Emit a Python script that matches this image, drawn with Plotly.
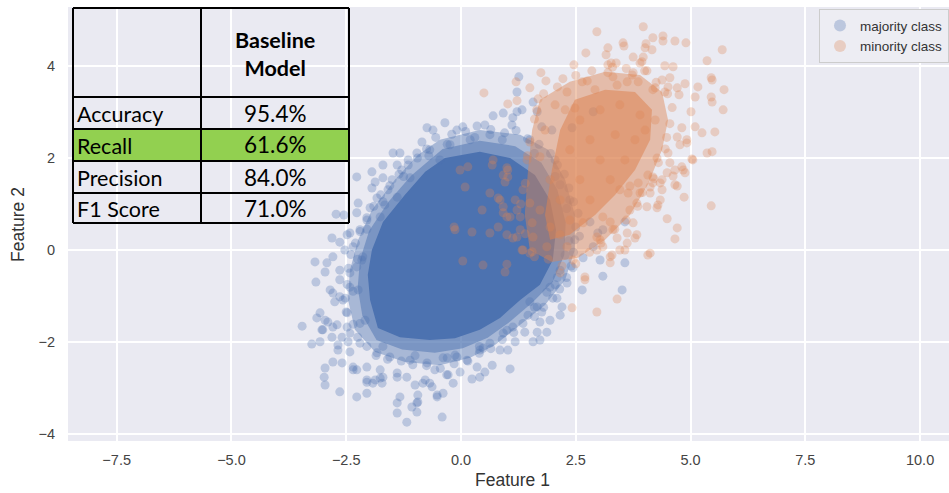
import plotly.graph_objects as go

# ---------------- data ----------------
majority_points = [
    (-0.35,2.77),(-0.74,2.66),(-0.61,2.61),(-0.09,2.61),(0.04,2.68),(-0.85,2.35),(-0.96,2.11),(-1.48,2.11),
    (-1.33,2.11),(-1.15,1.96),(-1.70,1.85),(-1.39,1.85),(-1.94,1.70),(-1.29,1.74),(-2.27,1.59),(-1.87,1.48),
    (-1.70,1.57),(-1.50,1.53),(-1.94,1.35),(-1.59,1.31),(-1.83,1.13),(-1.39,1.15),(-2.24,1.02),(-1.98,0.92),
    (-2.72,0.78),(-2.55,0.76),(-2.27,0.81),(-2.05,0.65),(-1.76,0.72),(-2.81,0.26),(-2.64,0.17),(-2.42,0.37),
    (-2.20,0.44),(-2.53,0.00),(-2.35,0.07),(-3.18,-0.26),(-2.92,-0.28),(-2.79,-0.15),(-2.96,-0.48),(-2.64,-0.44),
    (-2.42,-0.50),(-2.14,-0.15),(-2.27,-0.37),(-2.48,0.33),(-2.64,-0.65),(-3.16,-0.70),(-2.85,-0.87),(-2.79,-0.94),
    (-2.42,-0.81),(-2.57,-1.09),(-3.07,-1.37),(-3.14,-1.48),(-2.90,-1.57),(-2.79,-1.68),(-2.70,-1.63),(-3.46,-1.66),
    (-3.03,-1.74),(-2.48,-1.68),(-2.81,-1.90),(-2.59,-1.90),(-3.25,-2.05),(-3.07,-2.00),(-2.68,-2.07),(-2.46,-2.00),
    (-2.42,-2.22),(-2.79,-2.44),(-2.59,-2.46),(-2.96,-2.57),(-2.35,-2.55),(-2.98,-2.77),(-2.96,-2.94),(-2.64,-3.09),
    (-2.27,-3.20),(-2.05,-3.12),(-2.05,-2.88),(-1.92,-2.90),(-2.27,-2.61),(-2.05,-2.55),(-1.76,-2.79),(-1.39,-2.77),
    (-1.39,-3.33),(-1.39,-3.55),(-0.96,-3.53),(-1.18,-3.75),(-0.94,-3.16),(-0.96,-3.33),(-1.07,-3.42),(-0.52,-3.20),
    (-0.39,-3.12),(-0.41,-3.64),(-0.28,-2.72),(-0.02,-2.66),(-0.83,-2.90),(-0.68,-2.90),(-1.00,-2.94),
    (-2.75,-1.13),(-2.96,-1.53),(-3.01,-1.74),(-2.68,-2.18),(-2.35,-2.61),(-2.05,-2.83),(-1.87,-2.83),(-1.72,-2.90),
    (-1.76,-2.61),(-1.70,-2.77),(-1.39,-2.68),(-1.18,-2.77),(-1.33,-3.20),(-0.94,-3.31),(-0.78,-2.83),(-0.63,-2.98),
    (-0.52,-3.16),(-0.17,-2.90),(-0.31,-2.72),(-0.57,-2.61),
    (-2.42,-1.81),(-2.20,-2.03),(-1.83,-2.24),(-1.55,-2.33),(-1.11,-2.40),(-0.74,-2.46),(-0.39,-2.35),(-0.09,-2.33),
    (0.13,-2.40),(-2.48,-1.37),(-2.64,-1.02),
    (2.31,-0.72),(2.64,-0.87),(3.51,-0.87),(2.09,-1.05),(2.20,-1.24),(2.16,-1.42),(1.94,-1.53),(1.72,-1.57),
    (1.87,-1.79),(1.66,-1.79),(1.72,-1.96),(1.57,-2.00),(1.39,-1.79),(1.18,-2.00),(1.02,-2.18),(0.85,-2.18),
    (0.68,-2.51),(1.07,-2.59),(0.48,-2.14),(0.35,-2.55),(0.52,-2.66),(0.41,-2.77),(0.24,-2.81),(1.50,-1.13),
    (1.66,-1.24),(1.76,-1.35),(1.87,-0.92),(1.94,-0.81),(1.13,-1.68),(0.92,-1.81),(0.63,-2.03),
    (3.57,0.61),(2.81,0.61),(3.09,0.44),(2.98,0.37),(2.66,-0.17),(3.03,-0.22),(3.57,-0.28),(2.44,-0.39),
    (3.09,-0.57),(2.88,0.07),
    (1.26,3.77),(1.22,3.44),(0.70,2.92),(0.92,2.98),(1.57,3.22),(1.33,3.05),(1.66,3.01),(0.52,2.72),
    (1.13,2.88),(1.76,2.68),(1.98,2.61),(2.42,2.66),(2.88,3.01),(1.22,3.01),(1.11,2.72),(2.16,-0.44),
    (0.20,2.40),(-0.24,2.29),(-0.68,2.18),(0.63,2.51),(1.50,2.40),(2.05,1.96),(2.16,1.42),(2.37,1.09),
    (2.48,0.22),(2.27,-0.11),(2.05,-0.76),(1.46,-1.42),(0.41,-2.18),(-0.13,-2.29),(-2.09,-1.53),(-2.24,-0.87),
    (-2.16,-0.22),(-1.66,0.98),(-1.11,1.57),(-0.46,1.96),
    # dense band along the edge of the cloud
    (-0.55,2.45),(-0.20,2.52),(0.10,2.58),(0.35,2.70),(0.65,2.62),(0.95,2.55),(1.20,2.60),(1.45,2.42),
    (1.70,2.30),(1.95,2.10),(2.10,1.85),(2.25,1.65),(2.35,1.35),(2.45,1.05),(2.55,0.80),(2.50,0.50),
    (2.58,0.30),(2.45,-0.05),(2.40,-0.35),(2.30,-0.60),(2.15,-0.85),(2.00,-1.05),(1.80,-1.25),(1.60,-1.45),
    (1.35,-1.60),(1.15,-1.80),(0.90,-1.95),(0.65,-2.15),(0.40,-2.25),(0.15,-2.42),(-0.15,-2.48),(-0.45,-2.58),
    (-0.75,-2.52),(-1.05,-2.50),(-1.30,-2.42),(-1.60,-2.38),(-1.85,-2.30),(-2.05,-2.10),(-2.25,-1.90),(-2.35,-1.62),
    (-2.50,-1.35),(-2.52,-1.05),(-2.48,-0.75),(-2.45,-0.40),(-2.40,-0.10),(-2.30,0.15),(-2.20,0.40),(-2.05,0.70),
    (-1.90,0.95),(-1.75,1.20),(-1.55,1.40),(-1.35,1.65),(-1.15,1.85),(-0.95,2.00),(-0.75,2.20),
    (-0.30,2.30),(0.30,2.45),(0.90,2.40),(1.60,2.10),(2.05,1.60),(2.30,0.90),(2.35,0.20),(2.10,-0.60),
    (1.60,-1.25),(1.00,-1.75),(0.40,-2.10),(-0.30,-2.35),(-1.00,-2.30),(-1.70,-2.10),(-2.20,-1.60),(-2.35,-0.90),
    (-2.25,-0.20),(-2.05,0.45),(-1.70,1.05),(-1.25,1.60),(-0.70,2.05),
]

# outline of the fully saturated (opaque) centre of the majority cloud
majority_core_x = [-0.35, 0.41, 1.07, 1.61, 1.94, 2.07, 2.00, 1.72, 1.29, 0.85, 0.41, -0.13, -0.68, -1.33,
                   -1.81, -1.98, -2.03, -1.94, -1.70, -1.22, -0.78]
majority_core_y = [2.00, 2.14, 2.00, 1.63, 1.09, 0.44, -0.22, -0.76, -1.09, -1.48, -1.74, -1.92, -1.96, -1.90,
                   -1.70, -1.09, -0.54, 0.00, 0.61, 1.20, 1.70]
# outline of the semi-dense ring around it
majority_halo_x = [-0.46, 0.41, 1.29, 1.90, 2.27, 2.48, 2.48, 2.27, 1.83, 1.29, 0.74, 0.20, -0.46, -1.22,
                   -1.87, -2.31, -2.46, -2.42, -2.24, -1.94, -1.44, -0.94]
majority_halo_y = [2.40, 2.61, 2.51, 2.18, 1.53, 0.76, 0.00, -0.65, -1.20, -1.63, -2.07, -2.35, -2.51, -2.44,
                   -2.22, -1.74, -1.09, -0.44, 0.22, 0.87, 1.53, 2.07]
# an intermediate band between ring and centre
majority_mid_x = [-0.40, 0.41, 1.18, 1.75, 2.10, 2.28, 2.25, 2.00, 1.55, 1.07, 0.58, 0.04, -0.57, -1.28,
                  -1.84, -2.15, -2.25, -2.20, -2.00, -1.58, -1.08]
majority_mid_y = [2.20, 2.38, 2.26, 1.90, 1.31, 0.60, -0.11, -0.70, -1.15, -1.56, -1.91, -2.14, -2.24, -2.17,
                  -1.96, -1.42, -0.82, -0.22, 0.42, 1.05, 1.62]

minority_points = [
    (3.97,4.86),(2.96,4.75),(4.40,4.66),(4.40,4.55),(4.18,4.62),(4.66,4.55),(4.90,4.51),(3.53,4.51),(3.55,4.44),
    (4.03,4.49),(4.01,4.40),(4.16,4.36),(5.69,4.36),(2.72,4.29),(3.16,4.25),(3.20,4.40),(3.75,4.20),(3.97,4.20),
    (3.94,4.10),(5.36,4.12),(3.27,4.07),(3.38,4.07),(3.20,4.03),(2.46,4.03),(4.44,4.01),(4.62,3.99),(1.74,3.86),
    (1.85,3.68),(2.22,3.73),(2.64,3.66),(2.75,3.68),(3.20,3.86),(3.73,3.81),(4.05,3.90),(4.38,3.70),(4.55,3.75),
    (5.45,3.75),(5.47,3.70),(2.31,3.44),(0.50,3.42),(2.92,3.49),(3.40,3.59),(3.62,3.66),(4.88,3.62),(5.16,3.55),
    (5.73,3.49),(4.71,3.53),(4.75,3.38),(5.10,3.33),(5.45,3.33),(5.47,3.22),(5.71,3.05),(5.01,3.01),(4.18,3.49),
    (4.44,3.44),(1.68,3.29),(1.22,3.25),(1.02,3.18),(2.05,3.16),(2.48,3.09),(4.81,2.66),(5.10,2.68),(5.25,2.55),
    (5.53,2.57),(4.92,2.40),(4.92,2.33),(5.36,2.11),(5.47,2.14),(5.05,1.96),(4.81,1.81),(4.66,1.74),(4.55,1.90),
    (4.88,1.68),(4.86,1.15),(4.49,0.68),(4.71,0.48),(4.66,0.24),(5.45,0.96),(4.34,1.09),(4.27,0.92),(4.05,0.94),
    (3.83,1.02),(3.75,0.59),(3.62,0.37),(3.83,0.33),(3.46,0.00),(4.12,-0.07),(3.29,-0.11),(4.38,1.53),(4.38,1.31),
    (4.18,1.46),(4.66,1.42),(4.77,2.29),(4.51,2.11),(4.27,2.00),(4.71,2.46),(3.90,4.07),(4.51,3.55),(4.23,3.53),
    (3.86,3.66),(3.31,3.77),(3.75,3.86),(5.03,1.98),(4.84,1.74),(4.49,1.68),(4.62,1.61),(4.71,1.39),(4.07,1.63),
    (4.18,1.59),(4.12,1.37),(4.34,1.46),(3.90,1.24),(4.12,1.24),(4.29,0.98),(3.68,0.87),(3.79,0.26),(3.62,0.15),
    (3.57,0.00),(4.07,-0.11),(3.25,-0.15),(3.25,-0.28),(2.70,-0.59),(3.09,0.72),(3.25,0.61),(3.31,0.44),(3.40,0.26),
    (3.03,0.22),(2.96,0.00),(3.64,1.24),(3.68,1.39),(3.86,1.46),
    (0.63,1.24),(0.46,0.87),(0.81,1.13),(0.92,1.63),(0.96,1.48),(1.02,1.74),(0.70,1.96),(0.68,1.85),(0.92,0.94),
    (1.00,0.72),(1.18,1.09),(1.22,0.87),(1.29,0.72),(0.81,0.50),(0.63,0.37),(1.00,0.33),(1.13,0.26),(1.29,0.44),
    (1.55,0.59),(1.57,0.28),(1.35,0.00),(1.50,-0.07),(0.48,-0.33),(1.00,-0.31),(0.96,-0.48),(1.87,0.07),(1.35,1.31),
    (1.50,1.02),(1.44,1.96),(1.72,2.03),(0.24,0.39),(1.94,0.50),(2.16,0.33),(2.31,0.07),(2.16,-0.50),(2.44,-0.22),
    (2.96,0.28),(3.09,0.07),(2.66,0.59),(-0.15,0.50),(0.04,-0.24),(0.09,1.37),(-0.02,1.74),(0.15,1.81),(1.00,1.79),
    (1.02,1.59),(0.85,1.09),(0.92,0.81),(1.07,0.72),(1.22,0.28),(1.33,0.00),(1.55,-0.04),(2.42,-1.26),(2.96,-1.35),
    (3.40,-1.07),(2.70,-0.65),(-0.13,0.44),(1.20,3.66),(1.50,3.53),
    (2.59,2.83),(3.03,3.05),(3.46,3.16),(3.90,2.94),(2.81,2.40),(3.36,2.51),(3.79,2.40),(2.37,2.18),(3.03,1.96),
    (3.57,1.96),(2.59,1.53),(3.25,1.53),(2.16,1.09),(2.81,1.09),(2.37,0.65),(1.94,1.53),(1.83,2.61),(2.27,3.05),
    (4.01,2.61),(4.23,2.83),(3.46,1.31),(1.72,0.87),
    # points along the edge of the dense part
    (1.80,3.40),(2.10,3.55),(2.50,3.80),(2.85,3.90),(3.30,3.98),(3.60,3.95),(4.00,3.90),(4.25,3.65),(4.50,3.40),
    (4.60,3.10),(4.55,2.75),(4.48,2.45),(4.45,2.20),(4.30,1.90),(4.20,1.55),(3.95,1.25),(3.85,0.95),(3.60,0.65),
    (3.35,0.45),(3.05,0.15),(2.80,-0.05),(2.50,-0.30),(2.20,-0.35),(1.90,-0.20),(1.60,-0.15),(1.40,0.35),
    (1.30,1.00),(1.40,1.45),(1.45,2.05),(1.50,2.35),(1.60,2.85),(1.65,3.05),
]
# outlines of the dense parts of the minority cloud
minority_outer_x = [1.72, 2.37, 3.14, 3.90, 4.38, 4.51, 4.38, 4.07, 3.68, 3.14, 2.55, 1.98, 1.50, 1.39, 1.46, 1.55]
minority_outer_y = [3.27, 3.66, 3.88, 3.81, 3.44, 2.83, 2.18, 1.42, 0.76, 0.22, -0.17, -0.26, 0.00, 0.76, 1.74, 2.61]
minority_inner_x = [2.48, 3.14, 3.79, 4.16, 4.12, 3.79, 3.36, 2.92, 2.37, 1.94, 1.83, 1.98, 2.16]
minority_inner_y = [3.27, 3.49, 3.44, 3.05, 2.40, 1.74, 1.20, 0.76, 0.33, 0.22, 0.76, 1.74, 2.61]

series_names = ["majority class", "minority class"]
x_ticks = [-7.5, -5.0, -2.5, 0.0, 2.5, 5.0, 7.5, 10.0]
y_ticks = [-4, -2, 0, 2, 4]
x_range = [-8.56, 10.63]
y_range = [-4.16, 5.29]

table_header = ["Baseline", "Model"]
metric_names = ["Accuracy", "Recall", "Precision", "F1 Score"]
metric_values = ["95.4%", "61.6%", "84.0%", "71.0%"]
highlight_metric = "Recall"

# ---------------- styling ----------------
BLUE = "76,114,176"
ORANGE = "221,132,82"
W, H = 949, 493
ML, MR, MT, MB = 68, 0, 7, 52
PW, PH = W - ML - MR, H - MT - MB


def px_x(px):
    return (px - ML) / PW


def px_y(py):
    return (H - MB - py) / PH


fig = go.Figure()


def polygon(xs, ys, rgba):
    fig.add_trace(go.Scatter(x=xs, y=ys, mode="lines", fill="toself", fillcolor=rgba,
                             line=dict(width=0, color=rgba), hoverinfo="skip", showlegend=False))


polygon(majority_halo_x, majority_halo_y, f"rgba({BLUE},0.42)")
polygon(majority_mid_x, majority_mid_y, f"rgba({BLUE},0.5)")
polygon(majority_core_x, majority_core_y, f"rgb({BLUE})")
fig.add_trace(go.Scatter(
    x=[p[0] for p in majority_points], y=[p[1] for p in majority_points], mode="markers",
    name=series_names[0], marker=dict(size=9, color=f"rgba({BLUE},0.3)", line=dict(width=0))))
polygon(minority_outer_x, minority_outer_y, f"rgba({ORANGE},0.45)")
polygon(minority_inner_x, minority_inner_y, f"rgba({ORANGE},0.55)")
fig.add_trace(go.Scatter(
    x=[p[0] for p in minority_points], y=[p[1] for p in minority_points], mode="markers",
    name=series_names[1], marker=dict(size=9, color=f"rgba({ORANGE},0.3)", line=dict(width=0))))

tickfont = dict(family="Liberation Sans", size=14.5, color="#444444")
fig.update_xaxes(range=x_range, tickvals=x_ticks, tickformat=".1f", showgrid=True, gridcolor="white",
                 gridwidth=1.5, zeroline=False, showline=False, ticks="", tickfont=tickfont,
                 ticklabelstandoff=8)
fig.update_yaxes(range=y_range, tickvals=y_ticks, tickformat="d", showgrid=True, gridcolor="white",
                 gridwidth=1.5, zeroline=False, showline=False, ticks="", tickfont=tickfont,
                 ticklabelstandoff=12)

# ---------------- table overlay ----------------
col_px = [73, 201, 349]
row_px = [8, 97, 129, 161, 193, 223]
shapes = []
hi = metric_names.index(highlight_metric)
shapes.append(dict(type="rect", xref="paper", yref="paper", x0=px_x(col_px[0]), x1=px_x(col_px[2]),
                   y0=px_y(row_px[hi + 2]), y1=px_y(row_px[hi + 1]), fillcolor="#92D050",
                   line=dict(width=0), layer="above"))
for py in row_px:
    shapes.append(dict(type="line", xref="paper", yref="paper", x0=px_x(col_px[0]), x1=px_x(col_px[2]),
                       y0=px_y(py), y1=px_y(py), line=dict(color="black", width=2), layer="above"))
for px in col_px:
    shapes.append(dict(type="line", xref="paper", yref="paper", x0=px_x(px), x1=px_x(px),
                       y0=px_y(row_px[0]), y1=px_y(row_px[-1]), line=dict(color="black", width=2), layer="above"))

annotations = []
annotations.append(dict(xref="paper", yref="paper", x=px_x(275), y=px_y(54),
                        text="<b>" + "<br>".join(table_header) + "</b>", showarrow=False,
                        xanchor="center", yanchor="middle", align="center",
                        font=dict(family="Lato", size=21.5, color="black")))
for i, (name, val) in enumerate(zip(metric_names, metric_values)):
    cy = (row_px[i + 1] + row_px[i + 2]) / 2 + 1
    annotations.append(dict(xref="paper", yref="paper", x=px_x(75), y=px_y(cy), text=name, showarrow=False,
                            xanchor="left", yanchor="middle", font=dict(family="Lato", size=21.5, color="black")))
    annotations.append(dict(xref="paper", yref="paper", x=px_x(275), y=px_y(cy - 1), text=val, showarrow=False,
                            xanchor="center", yanchor="middle", font=dict(family="Lato", size=22.5, color="black")))

# axis titles
annotations.append(dict(xref="paper", yref="paper", x=px_x(512), y=px_y(480), text="Feature 1", showarrow=False,
                        xanchor="center", yanchor="middle",
                        font=dict(family="Liberation Sans", size=17.5, color="#333333")))
annotations.append(dict(xref="paper", yref="paper", x=px_x(18), y=px_y(225), text="Feature 2", showarrow=False,
                        textangle=-90, xanchor="center", yanchor="middle",
                        font=dict(family="Liberation Sans", size=17.5, color="#333333")))

fig.update_layout(
    width=W, height=H, margin=dict(l=ML, r=MR, t=MT, b=MB, pad=0),
    paper_bgcolor="white", plot_bgcolor="#EAEAF2",
    shapes=shapes, annotations=annotations,
    legend=dict(x=1, y=0.995, xanchor="right", yanchor="top", bgcolor="#EDEDF3", bordercolor="#CCCCCC",
                borderwidth=1, font=dict(family="Liberation Sans", size=13.5, color="#333333"),
                itemsizing="constant"),
)

fig.write_html("out.html")
